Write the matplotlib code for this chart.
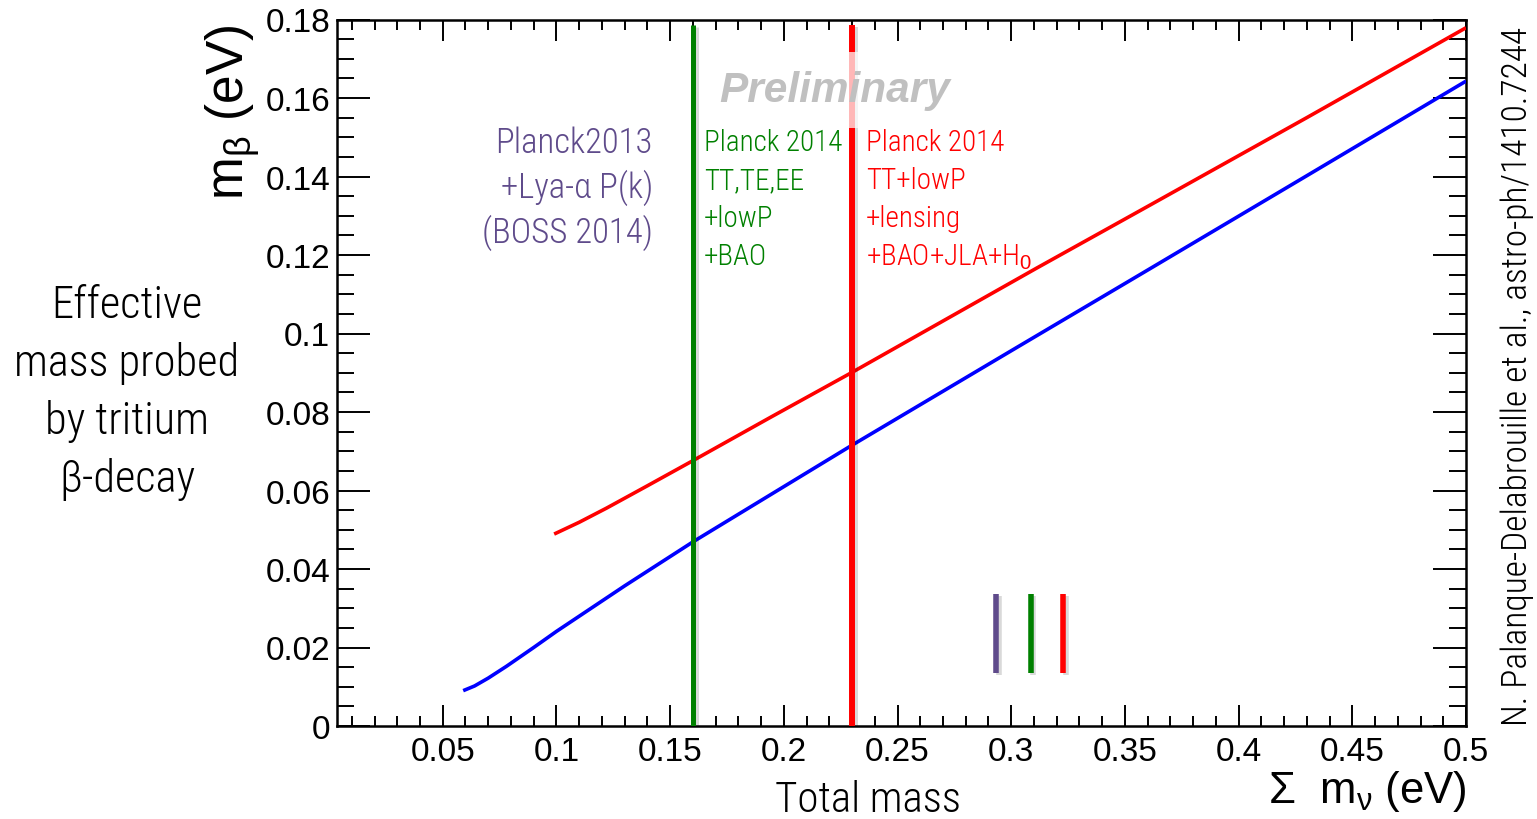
import matplotlib
matplotlib.use("Agg")
import matplotlib.pyplot as plt
import matplotlib.patheffects as pe
from matplotlib import font_manager as fm
from matplotlib.ticker import MultipleLocator, FormatStrFormatter

# ---------------- data ----------------
nh_sum = [0.059, 0.064, 0.070, 0.078, 0.090, 0.100, 0.130, 0.160, 0.229, 0.300, 0.361, 0.430, 0.500]
nh_mb  = [0.0090, 0.0102, 0.0122, 0.0152, 0.0200, 0.0241, 0.0357, 0.0469, 0.0712, 0.0956, 0.1165, 0.1402, 0.1643]

ih_sum = [0.099, 0.110, 0.122, 0.140, 0.160, 0.194, 0.230, 0.311, 0.361, 0.430, 0.500]
ih_mb  = [0.0489, 0.0519, 0.0555, 0.0612, 0.0676, 0.0786, 0.0901, 0.1166, 0.1327, 0.1550, 0.1779]

limit_x      = [0.16, 0.23]              # Planck 2014 (green), Planck 2014 (red)
limit_colors = ["#008000", "#ff0000"]
limit_top    = 0.1785

mark_x      = [0.2935, 0.3085, 0.3227]
mark_y      = [0.0135, 0.0336]
mark_colors = ["#5f4b8b", "#008000", "#ff0000"]

purple_lines = ["Planck2013", "+Lya-\u03b1 P(k)", "(BOSS 2014)"]
green_lines  = ["Planck 2014", "TT,TE,EE", "+lowP", "+BAO"]
red_lines    = ["Planck 2014", "TT+lowP", "+lensing", "+BAO+JLA+H$_0$"]
left_lines   = ["Effective", "mass probed", "by tritium", "\u03b2-decay"]

x_ticks_major, x_ticks_minor = 0.05, 0.01
y_ticks_major, y_ticks_minor = 0.02, 0.005

# ---------------- fonts ----------------
names = {f.name for f in fm.fontManager.ttflist}
def narrow_kw():
    for n in ["Liberation Sans Narrow", "Roboto Condensed", "Open Sans Condensed"]:
        if n in names:
            return dict(family=[n, "DejaVu Sans"], fontweight="light")
    return dict(family=["DejaVu Sans"], fontstretch="condensed")
NK = narrow_kw()
helv = ["Liberation Sans", "DejaVu Sans"]
plt.rcParams["font.family"] = helv
plt.rcParams["mathtext.fontset"] = "custom"
plt.rcParams["mathtext.rm"] = "Liberation Sans"
plt.rcParams["mathtext.it"] = "Liberation Sans"

W, H = 1537, 820
fig = plt.figure(figsize=(W / 100, H / 100), dpi=100)
x0, x1 = 337 / W, 1466 / W
y0, y1 = 1 - 727 / H, 1 - 20.5 / H
ax = fig.add_axes([x0, y0, x1 - x0, y1 - y0])

ax.set_xlim(0.0035, 0.5)
ax.set_ylim(0, 0.18)

# curves
ax.plot(nh_sum, nh_mb, color="#0000ff", lw=2.6, solid_capstyle="butt", zorder=3)
ax.plot(ih_sum, ih_mb, color="#ff0000", lw=2.6, solid_capstyle="butt", zorder=3)

shadow = [pe.SimpleLineShadow(offset=(2, -1.5), shadow_color="black", alpha=0.15), pe.Normal()]
for xv, c, lw in zip(limit_x, limit_colors, [3.6, 4.3]):
    ax.plot([xv, xv], [0, limit_top], color=c, lw=lw, solid_capstyle="butt",
            zorder=4, path_effects=shadow)

for xv, c in zip(mark_x, mark_colors):
    ax.plot([xv, xv], mark_y, color=c, lw=4.0, solid_capstyle="butt",
            zorder=4, path_effects=shadow)

# ticks
ax.xaxis.set_major_locator(MultipleLocator(x_ticks_major))
ax.xaxis.set_minor_locator(MultipleLocator(x_ticks_minor))
ax.yaxis.set_major_locator(MultipleLocator(y_ticks_major))
ax.yaxis.set_minor_locator(MultipleLocator(y_ticks_minor))
ax.xaxis.set_major_formatter(FormatStrFormatter("%g"))
ax.yaxis.set_major_formatter(FormatStrFormatter("%g"))
ax.tick_params(which="both", direction="in", top=True, right=True, width=1.4, colors="black")
ax.tick_params(axis="x", which="major", length=15, pad=7, labelsize=24)
ax.tick_params(axis="x", which="minor", length=7.5)
ax.tick_params(axis="y", which="major", length=24, pad=5, labelsize=24)
ax.tick_params(axis="y", which="minor", length=12)
for s in ax.spines.values():
    s.set_linewidth(1.8)

# texts (pixel positions converted to figure fractions)
def fx(px): return px / W
def fy(py): return 1 - py / H

fig.text(fx(233), fy(25), r"m$_{\beta}$ (eV)", rotation=90, ha="center", va="top", fontsize=37)
fig.text(fx(1467), fy(803), r"$\Sigma$  m$_{\nu}$ (eV)", ha="right", va="baseline", fontsize=31.5)
fig.text(fx(868), fy(812), "Total mass", ha="center", va="baseline", fontsize=31, **NK)

for i, t in enumerate(left_lines):
    fig.text(fx(127), fy(306 + 57.7 * i), t, ha="center", va="center", fontsize=32, **NK)

for i, t in enumerate(purple_lines):
    fig.text(fx(653), fy(143 + 45 * i), t, ha="right", va="center", fontsize=25,
             color="#5f4b8b", **NK)

for i, t in enumerate(green_lines):
    fig.text(fx(704), fy(143 + 38 * i), t, ha="left", va="center", fontsize=21,
             color="#008000", **NK)

for i, t in enumerate(red_lines):
    fig.text(fx(866), fy(143 + 38 * i), t, ha="left", va="center", fontsize=21,
             color="#ff0000", **NK)

ax.text(fx(835), fy(91), "Preliminary", transform=fig.transFigure, ha="center", va="center",
        fontsize=30.5, fontweight="bold", fontstyle="italic", color="#c0c0c0",
        family=["Liberation Sans", "DejaVu Sans"], zorder=6,
        bbox=dict(boxstyle="square,pad=0.42", facecolor="white", edgecolor="none", alpha=0.72))

fig.text(fx(1517), fy(726), "N. Palanque-Delabrouille et al., astro-ph/1410.7244",
         rotation=90, ha="center", va="bottom", fontsize=25.5, **NK)

fig.savefig("out.png", dpi=100)
